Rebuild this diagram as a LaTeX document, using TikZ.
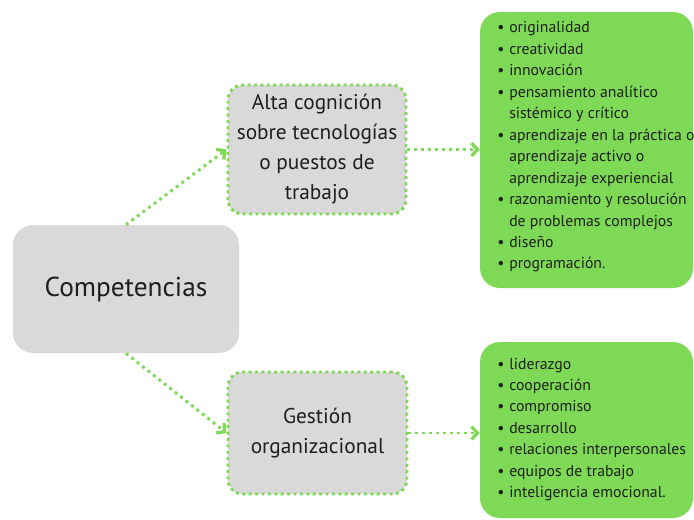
\documentclass[tikz,border=0pt]{standalone}
\usepackage{fontspec}
\setmainfont{PT Sans}
\usetikzlibrary{arrows.meta,calc}
\definecolor{cgreen}{HTML}{7ED957}
\definecolor{cgray}{HTML}{D9D9D9}
\definecolor{ctext}{HTML}{1F1F1F}
\newcommand\itm[1]{\makebox[9pt][l]{\textbullet}#1}
\newcommand\cnt[1]{\hspace*{9pt}#1}
\begin{document}
\begin{tikzpicture}[x=0.75pt,y=-0.75pt,
  mainbox/.style={fill=cgray, rounded corners=15pt, minimum width=169.5pt, minimum height=96pt, inner sep=0pt, text=ctext, font=\fontsize{20.5}{24}\selectfont},
  midbox/.style={fill=cgray, draw=cgreen, line width=2.2pt, dash pattern=on 2.2pt off 2.6pt, rounded corners=11pt, inner sep=0pt, align=center, text=ctext, font=\fontsize{16}{22.5}\selectfont},
  greenbox/.style={fill=cgreen, rounded corners=15pt, minimum width=159.75pt, inner sep=0pt},
  listtext/.style={align=left, inner sep=0pt, text=ctext, font=\fontsize{11.8}{16.1}\selectfont},
  conn/.style={draw=cgreen, line width=2.2pt, dash pattern=on 2.2pt off 3pt, -{Straight Barb[length=4.5pt, width=9.5pt, line width=2.4pt]}}
]
\useasboundingbox[fill=white] (0,0) rectangle (694,519);

\node[mainbox] (comp) at (126,289) {Competencias};

\node[midbox, minimum width=133.5pt, minimum height=96.75pt] (alta) at (317,149.5)
  {Alta cognición\\sobre tecnologías\\o puestos de\\trabajo};
\node[midbox, minimum width=134.25pt, minimum height=91.5pt] (gest) at (317.5,433)
  {Gestión\\organizacional};

\node[greenbox, minimum height=207pt] (g1) at (586.5,150) {};
\node[greenbox, minimum height=132pt] (g2) at (586.5,430) {};

\node[listtext, anchor=west] (t1) at (497,147) {%
\itm{originalidad}\\
\itm{creatividad}\\
\itm{innovación}\\
\itm{pensamiento analítico}\\
\cnt{sistémico y crítico}\\
\itm{aprendizaje en la práctica o}\\
\cnt{aprendizaje activo o}\\
\cnt{aprendizaje experiencial}\\
\itm{razonamiento y resolución}\\
\cnt{de problemas complejos}\\
\itm{diseño}\\
\itm{programación.}};

\node[listtext, anchor=west] (t2) at (497,429.5) {%
\itm{liderazgo}\\
\itm{cooperación}\\
\itm{compromiso}\\
\itm{desarrollo}\\
\itm{relaciones interpersonales}\\
\itm{equipos de trabajo}\\
\itm{inteligencia emocional.}};

\draw[conn] (comp.north) -- (alta.west);
\draw[conn] (comp.south) -- (gest.west);
\draw[conn] (alta.east) -- (alta.east -| g1.west);
\draw[conn] (gest.east) -- (gest.east -| g2.west);
\end{tikzpicture}
\end{document}
